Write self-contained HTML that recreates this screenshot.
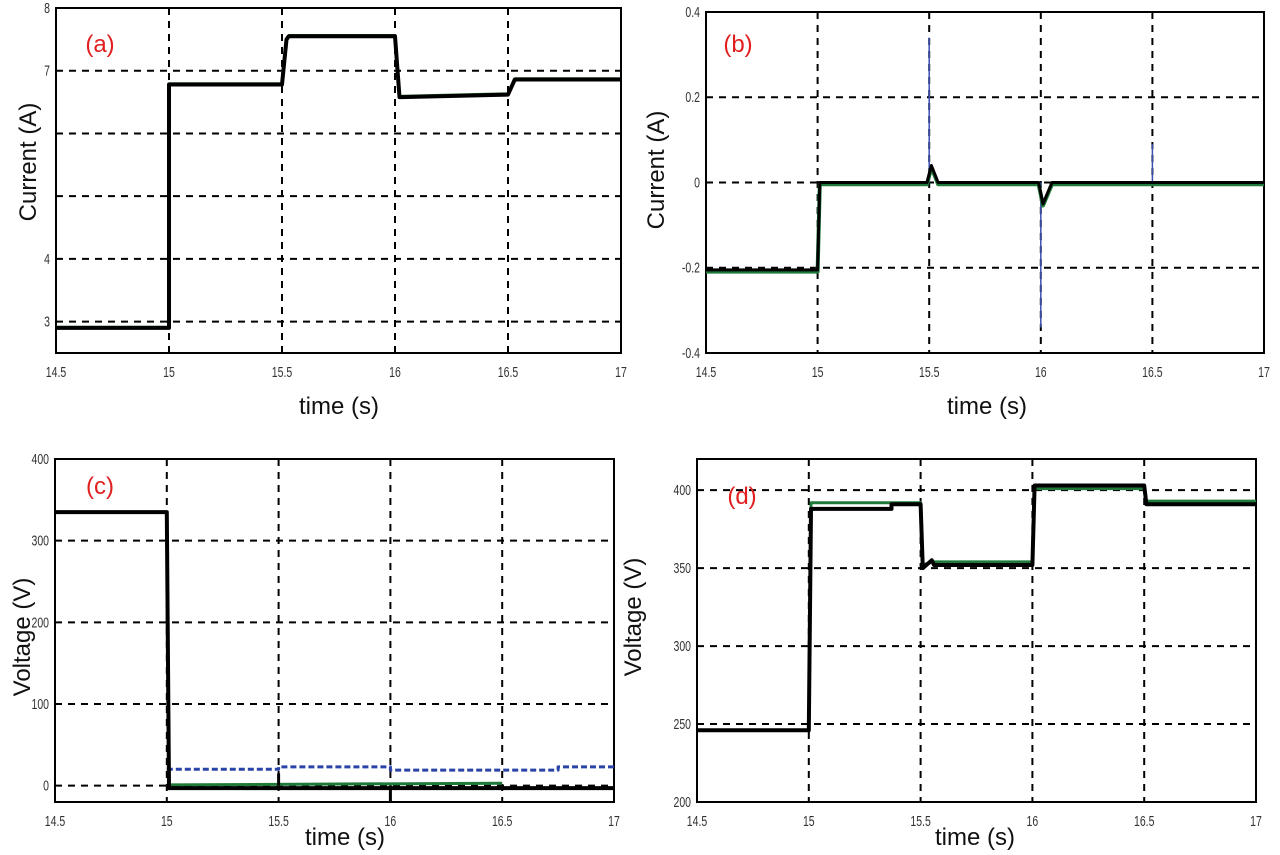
<!DOCTYPE html>
<html><head><meta charset="utf-8"><style>
body{margin:0;background:#fff;width:1280px;height:855px;overflow:hidden}
svg{display:block}
text{font-family:"Liberation Sans",sans-serif}
.tick{font-size:15px;fill:#333}
.title{font-size:24px;fill:#111}
.plab{font-size:24px;fill:#e02020}
</style></head><body>
<svg id="fig" width="1280" height="855" xmlns="http://www.w3.org/2000/svg"></svg>
<script>
const xTicks=[14.5,15,15.5,16,16.5,17];
const xTickLabels=["14.5","15","15.5","16","16.5","17"];
// Panel a
const aYTicks=[8,7,6,5,4,3];
const aYTickLabels=["8","7","","","4","3"];
const aTime=[14.5,15,15,15.5,15.52,15.53,16,16.02,16.03,16.5,16.53,16.54,17];
const aBlack=[2.9,2.9,6.78,6.78,7.5,7.55,7.55,6.58,6.58,6.62,6.86,6.86,6.86];
// Panel b
const bYTicks=[0.4,0.2,0,-0.2,-0.4];
const bYTickLabels=["0.4","0.2","0","-0.2","-0.4"];
const bTime=[14.5,15,15.01,15.49,15.51,15.54,15.99,16.01,16.05,17];
const bBlack=[-0.205,-0.205,0,0,0.04,0,0,-0.05,0,0];
const bSpikeT=[15.5,16,16.5];
const bSpikeV=[0.34,-0.34,0.09];
// Panel c
const cYTicks=[400,300,200,100,0];
const cYTickLabels=["400","300","200","100","0"];
const cTime=[14.5,15,15.01,17];
const cBlack=[335,335,-3,-3];
const cBlueT=[15,15.5,15.5,16,16,16.75,16.75,17];
const cBlueV=[20,20,23,23,19,19,23,23];
// Panel d
const dYTicks=[400,350,300,250,200];
const dYTickLabels=["400","350","300","250","200"];
const dTime=[14.5,15,15.01,15.37,15.37,15.5,15.51,15.55,15.56,16,16.01,16.5,16.51,17];
const dBlack=[246,246,388,388,391,391,350,355,352,352,403,403,391,391];
const dGreen=[246,246,392,392,392,392,352,354,354,354,401,401,393,393];

const NS="http://www.w3.org/2000/svg";
const svg=document.getElementById('fig');
function el(tag,attrs,parent){const e=document.createElementNS(NS,tag);for(const k in attrs)e.setAttribute(k,attrs[k]);(parent||svg).appendChild(e);return e;}

function panel(id,box,ymin,ymax,yt,ytl,label,lpos,ytitle,ytpos,xtpos){
  const g=el('g',{});
  
  
  const X=t=>box.l+(t-14.5)/(2.5)*(box.r-box.l);
  const Y=v=>box.b-(v-ymin)/(ymax-ymin)*(box.b-box.t);
  xTicks.forEach((t,i)=>{
    if(i>0&&i<xTicks.length-1){const l=el('line',{x1:X(t),x2:X(t),y1:box.t,y2:box.b,stroke:'#000','stroke-width':2,'stroke-dasharray':'7,6'},g);
    }
    const tx=el('text',{x:X(t),y:box.b+24,'text-anchor':'middle',class:'tick',transform:`translate(${X(t)},0) scale(0.7,1) translate(${-X(t)},0)`},g);
    tx.textContent=xTickLabels[i];
    
  });
  yt.forEach((v,i)=>{
    if(v>ymin&&v<ymax){const l=el('line',{x1:box.l,x2:box.r,y1:Y(v),y2:Y(v),stroke:'#000','stroke-width':2,'stroke-dasharray':'7,6'},g);
    }
    const x0=box.l-6;
    const tx=el('text',{x:x0,y:Y(v)+5,'text-anchor':'end',class:'tick',transform:`translate(${x0},0) scale(0.7,1) translate(${-x0},0)`},g);
    tx.textContent=ytl[i];
    
  });
  const fr=el('rect',{x:box.l,y:box.t,width:box.r-box.l,height:box.b-box.t,fill:'none',stroke:'#000','stroke-width':2},g);
  
  const pl=el('text',{x:lpos[0],y:lpos[1],'text-anchor':'middle',class:'plab'},g);
  pl.textContent=label;
  
  const yt2=el('text',{x:ytpos[0],y:ytpos[1],'text-anchor':'middle',class:'title',transform:`rotate(-90 ${ytpos[0]} ${ytpos[1]})`},g);
  yt2.textContent=ytitle;
  
  const xt=el('text',{x:xtpos[0],y:xtpos[1],'text-anchor':'middle',class:'title'},g);
  xt.textContent='time (s)';
  
  return {g,X,Y};
}
function line(p,ts,vs,color,w,dash,name){
  const d=ts.map((t,i)=>(i?'L':'M')+p.X(t).toFixed(1)+','+p.Y(vs[i]).toFixed(1)).join('');
  const a={d:d,fill:'none',stroke:color,'stroke-width':w,'stroke-linejoin':'round'};
  if(dash)a['stroke-dasharray']=dash;
  const e=el('path',a,p.g);
  
  
  return e;
}

const pa=panel('a',{l:56,r:621,t:8,b:353},2.5,8,aYTicks,aYTickLabels,'(a)',[100,52],'Current (A)',[36,162],[339,414]);
line(pa,aTime,aBlack.map(v=>v+0.02),'#2e7d32',2,null,'series-a-green');
line(pa,aTime,aBlack,'#000',4,null,'series-a-black');

const pb=panel('b',{l:706,r:1264,t:12,b:353},-0.4,0.4,bYTicks,bYTickLabels,'(b)',[738,52],'Current (A)',[664,170],[987,414]);
bSpikeT.forEach((t,i)=>{const s=el('line',{x1:pb.X(t),x2:pb.X(t),y1:pb.Y(0),y2:pb.Y(bSpikeV[i]),stroke:'#3a4fb0','stroke-width':1.5},pb.g);
});
line(pb,bTime,bBlack.map(v=>v-0.004),'#1f7a3a',4,null,'series-b-green');
line(pb,bTime,bBlack,'#000',3,null,'series-b-black');

const pc=panel('c',{l:55,r:614,t:459,b:802},-20,400,cYTicks,cYTickLabels,'(c)',[100,494],'Voltage (V)',[30,637],[345,845]);
line(pc,cBlueT,cBlueV,'#2b44a8',3,'6,3','series-c-blue');
line(pc,[15,16.5],[1,3],'#1f7a3a',3,null,'series-c-green');
line(pc,cTime,cBlack,'#000',4,null,'series-c-black');
[[15.5,0,15],[16,0,-20]].forEach(s=>{const e=el('line',{x1:pc.X(s[0]),x2:pc.X(s[0]),y1:pc.Y(s[1]),y2:pc.Y(s[2]),stroke:'#000','stroke-width':3},pc.g);
});

const pd=panel('d',{l:697,r:1256,t:459,b:802},200,420,dYTicks,dYTickLabels,'(d)',[742,504],'Voltage (V)',[641,617],[975,845]);
line(pd,dTime,dGreen,'#1f7a3a',3,null,'series-d-green');
line(pd,dTime,dBlack,'#000',4,null,'series-d-black');
</script>
</body></html>
